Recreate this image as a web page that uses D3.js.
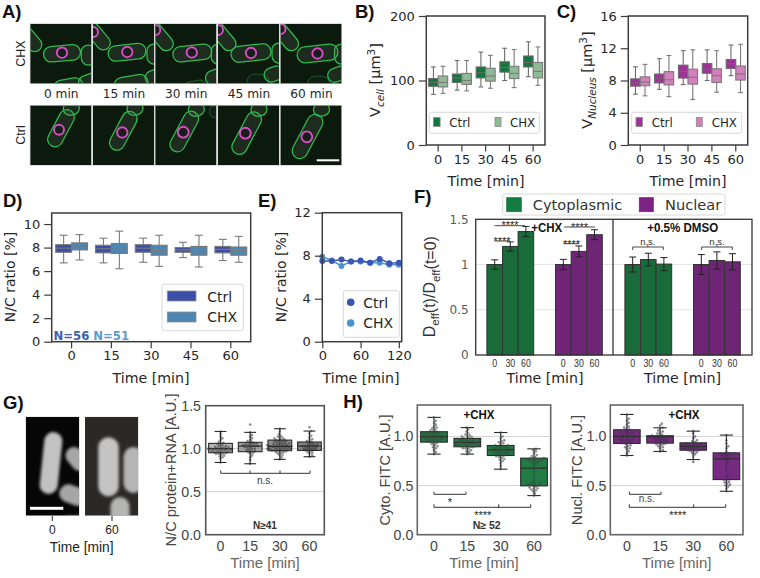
<!DOCTYPE html>
<html><head><meta charset="utf-8">
<script src="https://cdnjs.cloudflare.com/ajax/libs/d3/7.8.5/d3.min.js"></script>
<style>html,body{margin:0;padding:0;background:#fff}svg{display:block}</style></head>
<body><div id="c"></div>
<script>
// ---------- DATA ----------
const times = ["0","15","30","45","60"];
const timesShort = ["0","15","30","60"];
const groupNames = ["Ctrl","CHX"];
// box stats: low whisker, q1, median, q3, high whisker
const vCellCtrl = [[78.5,91,97,103,121],[85,97,104,110,131],[90,104,112,121,144],[100,113,120,129,150],[106,121,128,138,160]];
const vCellChx  = [[80,90,97,107,122],[84,94,100,111,131],[88,99,107,119,139],[89,103,111,122,148],[92.5,104,114,128,152]];
const vNucCtrl  = [[6.3,7.3,7.7,8.2,9.7],[6.9,7.7,8.3,8.8,10.7],[7.5,8.3,9.1,9.9,11.7],[8,8.9,9.4,10.1,11.8],[8.6,9.5,10.1,10.6,12.4]];
const vNucChx   = [[6.1,7.35,7.8,8.45,10],[6,7.45,8.1,9.1,11.1],[5.65,7.55,8.4,9.4,11.8],[6.55,7.75,8.6,9.45,11.7],[6.5,8.05,8.8,9.8,12.5]];
const ncCtrl    = [[6.7,7.6,7.95,8.25,9.05],[6.7,7.55,7.9,8.2,8.8],[6.75,7.6,7.95,8.25,8.8],[7.15,7.6,7.8,8,8.45],[6.9,7.55,7.85,8.1,8.7]];
const ncChx     = [[6.95,7.8,8.15,8.4,9.1],[6.2,7.5,8,8.35,9.4],[6.4,7.35,7.75,8.2,9.05],[6.35,7.35,7.65,8.1,9.05],[6.75,7.35,7.75,8.05,8.95]];
const tsMinutes = [0,15,30,45,60,75,90,105,120];
const tsCtrl    = [7.5,7.5,7.65,7.45,7.55,7.35,7.7,7.3,7.35];
const tsChx     = [7.9,7.55,7.05,7.45,7.45,7.35,7.35,7.15,7.15];
const deffTimes = ["0","30","60"];
const deffChxCyto  = [1,1.2,1.365];
const deffChxNuc   = [1,1.145,1.33];
const deffDmsoCyto = [1,1.055,1.005];
const deffDmsoNuc  = [1,1.045,1.03];
const deffChxCytoErr  = [0.052,0.05,0.056];
const deffChxNucErr   = [0.057,0.06,0.055];
const deffDmsoCytoErr = [0.083,0.07,0.072];
const deffDmsoNucErr  = [0.11,0.095,0.09];
const rnaBox  = [[.84,.953,1.0,1.062,1.2],[.825,.965,1.03,1.074,1.19],[.876,.977,1.027,1.1,1.232],[.907,.98,1.03,1.078,1.205]];
const rnaT0  = [.84,.88,.9,.91,.92,.93,.94,.94,.95,.95,.96,.96,.97,.97,.97,.98,.98,.98,.99,.99,.99,1,1,1,1,1.01,1.01,1.01,1.02,1.02,1.03,1.03,1.04,1.05,1.06,1.07,1.08,1.1,1.12,1.14,1.17,1.2];
const rnaT15 = [.825,.87,.9,.92,.94,.95,.96,.97,.97,.98,.99,1,1,1.01,1.02,1.02,1.03,1.03,1.03,1.04,1.04,1.05,1.05,1.06,1.06,1.07,1.08,1.09,1.1,1.12,1.14,1.16,1.19,1.28];
const rnaT30 = [.876,.9,.92,.93,.94,.95,.96,.96,.97,.97,.98,.98,.98,.99,.99,.99,1,1,1,1,1.01,1.01,1.01,1.02,1.02,1.02,1.03,1.03,1.03,1.03,1.04,1.04,1.04,1.05,1.05,1.05,1.06,1.06,1.07,1.07,1.08,1.08,1.09,1.09,1.1,1.1,1.11,1.12,1.12,1.13,1.14,1.15,1.17,1.2,1.232];
const rnaT60 = [.907,.92,.94,.95,.96,.97,.98,.98,.99,.99,1,1,1.01,1.01,1.02,1.02,1.03,1.03,1.03,1.04,1.04,1.05,1.05,1.06,1.07,1.08,1.09,1.1,1.11,1.13,1.15,1.18,1.205,1.25];
const cytoBox = [[.82,.942,.997,1.048,1.194],[.82,.895,.94,.98,1.09],[.667,.806,.864,.908,1.04],[.398,.497,.677,.779,.874]];
const cytoT0  = [.82,.84,.86,.88,.89,.9,.91,.92,.93,.94,.94,.95,.95,.96,.96,.97,.97,.97,.98,.98,.98,.99,.99,.99,1,1,1,1,1.01,1.01,1.01,1.02,1.02,1.02,1.03,1.03,1.04,1.04,1.05,1.05,1.06,1.07,1.08,1.09,1.1,1.12,1.14,1.16,1.194];
const cytoT15 = [.82,.84,.85,.86,.87,.88,.88,.89,.89,.9,.9,.9,.91,.91,.91,.92,.92,.92,.93,.93,.93,.94,.94,.94,.95,.95,.95,.96,.96,.96,.97,.97,.98,.98,.99,1,1,1.01,1.02,1.03,1.05,1.07,1.09];
const cytoT30 = [.667,.7,.73,.75,.76,.77,.78,.79,.8,.8,.81,.81,.82,.82,.83,.83,.84,.84,.85,.85,.85,.86,.86,.86,.87,.87,.87,.88,.88,.88,.89,.89,.9,.9,.91,.91,.92,.93,.94,.95,.96,.98,1,1.04];
const cytoT60 = [.398,.42,.44,.45,.46,.47,.47,.48,.49,.5,.5,.51,.51,.52,.52,.53,.55,.6,.66,.7,.72,.73,.74,.75,.75,.76,.76,.76,.77,.77,.77,.78,.78,.79,.8,.81,.83,.85,.86,.874];
const nucBox  = [[.806,.929,1.0,1.068,1.224],[.847,.932,.997,1.007,1.088],[.765,.86,.898,.935,1.054],[.442,.561,.772,.833,1.014]];
const nucT0  = [.806,.83,.85,.87,.88,.89,.9,.91,.92,.93,.93,.94,.95,.95,.96,.96,.97,.97,.98,.98,.99,.99,1,1,1,1.01,1.01,1.02,1.02,1.03,1.03,1.04,1.04,1.05,1.06,1.07,1.08,1.09,1.1,1.12,1.14,1.16,1.18,1.224];
const nucT15 = [.847,.86,.88,.89,.9,.91,.92,.92,.93,.93,.94,.94,.95,.95,.96,.96,.97,.97,.98,.98,.99,.99,1,1,1,1.01,1.01,1.02,1.03,1.04,1.05,1.06,1.08,1.088,1.11,1.13];
const nucT30 = [.74,.765,.8,.82,.83,.84,.85,.85,.86,.86,.87,.87,.87,.88,.88,.88,.89,.89,.89,.9,.9,.9,.91,.91,.91,.92,.92,.92,.93,.93,.94,.95,.96,.98,1,1.03,1.054];
const nucT60 = [.442,.47,.49,.5,.51,.52,.53,.54,.55,.56,.58,.6,.66,.72,.74,.76,.78,.79,.8,.8,.81,.81,.82,.82,.83,.83,.85,.88,.9,.93,.96,1.014];

// ---------- HELPERS ----------
const W=760,H=578, DJ='"DejaVu Sans"', AR='"Liberation Sans"';
const svg=d3.select("#c").append("svg").attr("width",W).attr("height",H).attr("viewBox",[0,0,W,H]);
const defs=svg.append("defs");
defs.append("filter").attr("id","soft").append("feGaussianBlur").attr("stdDeviation",0.4);
defs.append("filter").attr("id","blur").attr("x","-30%").attr("y","-30%").attr("width","160%").attr("height","160%").append("feGaussianBlur").attr("stdDeviation",1.8);

function txt(s,x,y,o={}){
  const t=svg.append("text").attr("x",x).attr("y",y).text(s)
    .attr("font-family",o.f||DJ).attr("font-size",o.s||13).attr("fill",o.c||"#262626")
    .attr("text-anchor",o.a||"start");
  if(o.w)t.attr("font-weight",o.w);
  if(o.tl)t.attr("textLength",o.tl).attr("lengthAdjust","spacingAndGlyphs");
  if(o.r)t.attr("transform",`rotate(${o.r} ${x} ${y})`);
  return t;
}
function richY(parts,x,y,o){
  const t=txt("",x,y,Object.assign({a:"middle",r:-90},o));
  parts.forEach(p=>{
    const ts=t.append("tspan").text(p.t);
    if(p.sub){ts.attr("font-size",o.s*0.72).attr("dy",o.s*0.28);}
    if(p.sup){ts.attr("font-size",o.s*0.72).attr("dy",-o.s*0.38);}
    if(p.it){ts.attr("font-style","italic");}
    if(p.back){ts.attr("dy",p.back);}
  });
}
function frame(p){
  const x=d3.scaleBand().domain(p.cats).range([p.l,p.r]);
  const y=d3.scaleLinear().domain([0,p.ymax]).range([p.b,p.t]);
  const g=svg.append("g");
  (p.grid||[]).forEach(v=>g.append("line").attr("x1",p.l).attr("x2",p.r).attr("y1",y(v)).attr("y2",y(v)).attr("stroke",p.gridC||"#d4d4d4").attr("stroke-width",1));
  return {x,y,g};
}
function finish(p,fr){
  const col=p.axC||"#3c3c3c", tc=p.tc||"#262626", sw=p.sw||1.5;
  svg.append("rect").attr("x",p.l).attr("y",p.t).attr("width",p.r-p.l).attr("height",p.b-p.t).attr("fill","none").attr("stroke",col).attr("stroke-width",sw);
  const ax=svg.append("g").attr("transform",`translate(0,${p.b})`).call(d3.axisBottom(p.xs||fr.x).tickValues(p.xt||null).tickSize(p.ts==null?6.5:p.ts).tickPadding(p.xpad||3));
  const ay=svg.append("g").attr("transform",`translate(${p.l},0)`).call(d3.axisLeft(fr.y).tickValues(p.yt).tickFormat(p.yf||(d=>d)).tickSize(p.ts==null?7.5:p.ts).tickPadding(p.ypad||4));
  [ax,ay].forEach(a=>{a.select(".domain").remove();a.selectAll("line").attr("stroke",col).attr("stroke-width",1.2);
    a.selectAll("text").attr("font-family",p.f||DJ).attr("font-size",p.fs||13).attr("fill",tc);});
}
function boxes(g,cx,bw,y,rows,c,o={}){
  const ec=o.edge||"#6e6e6e", lw=o.lw||1.2;
  const sel=g.selectAll(null).data(rows).join("g").attr("transform",(d,i)=>`translate(${cx(i)},0)`);
  sel.append("line").attr("y1",d=>y(d[0])).attr("y2",d=>y(d[4])).attr("stroke",ec).attr("stroke-width",lw);
  [0,4].forEach(k=>sel.append("line").attr("x1",-bw*.25).attr("x2",bw*.25).attr("y1",d=>y(d[k])).attr("y2",d=>y(d[k])).attr("stroke",ec).attr("stroke-width",lw));
  sel.append("rect").attr("x",-bw/2).attr("width",bw).attr("y",d=>y(d[3])).attr("height",d=>y(d[1])-y(d[3]))
    .attr("fill",(d,i)=>typeof c==="function"?c(i):c).attr("fill-opacity",o.fo==null?1:o.fo).attr("stroke",ec).attr("stroke-width",lw);
  sel.append("line").attr("x1",-bw/2).attr("x2",bw/2).attr("y1",d=>y(d[2])).attr("y2",d=>y(d[2])).attr("stroke",o.med||ec).attr("stroke-width",o.mlw||lw);
}
function swarm(g,vals,cx,y,r,fill,op){
  const placed=[];
  vals.slice().sort(d3.ascending).forEach(v=>{
    const py=y(v);let k=0,px=0;
    for(;;){
      px=(k%2?1:-1)*Math.ceil(k/2)*0.9;
      if(placed.every(q=>(q[0]-px)**2+(q[1]-py)**2>=(r*1.8)**2))break;
      k++;
    }
    placed.push([px,py]);
    g.append("circle").attr("cx",cx+px).attr("cy",py).attr("r",r).attr("fill",fill).attr("fill-opacity",op);
  });
}
function legendBox(x,y,w,h){svg.append("rect").attr("x",x).attr("y",y).attr("width",w).attr("height",h).attr("rx",2).attr("fill","#fff").attr("fill-opacity",.9).attr("stroke","#d8d8d8").attr("stroke-width",1);}
function swatch(x,y,w,h,c,e){svg.append("rect").attr("x",x).attr("y",y).attr("width",w).attr("height",h).attr("fill",c).attr("stroke",e||"#8a8a8a").attr("stroke-width",.8);}
function bracket(x1,x2,y,up,mids,c,sw){
  const g=svg.append("g").attr("stroke",c||"#333").attr("stroke-width",sw||1).attr("fill","none");
  g.append("path").attr("d",`M${x1},${y-up}V${y}H${x2}V${y-up}`);
  (mids||[]).forEach(m=>g.append("line").attr("x1",m).attr("x2",m).attr("y1",y).attr("y2",y-up));
}

// ---------- PANEL A: micrographs (illustration) ----------
const fx=[30.3,93,155.3,218,280.5];
function cell(g,c){
  const [cx,cy,len,w,ang,op]=c;
  g.append("rect").attr("x",-len/2).attr("y",-w/2).attr("width",len).attr("height",w).attr("rx",w/2)
   .attr("transform",`translate(${cx},${cy}) rotate(${ang})`)
   .attr("fill","#8f8f8f").attr("fill-opacity",(op==null?1:op)*.14).attr("stroke","#2fbb4e").attr("stroke-opacity",op==null?1:op).attr("stroke-width",1.25);
}
function nuc(g,n){
  g.append("circle").attr("cx",n[0]).attr("cy",n[1]).attr("r",n[2]).attr("fill","#1a0f1a").attr("fill-opacity",.5).attr("stroke","#d64fc4").attr("stroke-width",1.9);
}
const rowA=[
 {c:[[-2,13,34,14,50],[58,31,20,14,90],[60,57,24,14,-20],[38,63,30,16,-10]],m:[31.7,29.3,37,15.5,-5],n:[31.7,28.7,5.2],ex:[]},
 {c:[[2,9,40,14,50],[61,30,20,14,90],[64,52,24,14,-20],[38,60,34,16,-10]],m:[34,28.3,38,15.5,-6],n:[34.3,28,5.2],ex:[[0,8,5]]},
 {c:[[2,9,42,14,50],[63,30,20,14,90],[62,52,24,14,-20],[40,64,24,14,-10,.35]],m:[37,29,39,15.5,-6],n:[36.5,28.5,5.2],ex:[[0,6,5]]},
 {c:[[2,9,42,14,50],[61,29,20,14,90],[56,50,20,14,-20],[40,58,22,16,0,.3]],m:[33,29,40,16,-6],n:[33,29,5.2],ex:[[0,6,5]]},
 {c:[[2,9,42,14,50],[61,30,20,14,90],[58,50,22,14,-20],[38,60,22,16,0,.3]],m:[37,29.5,41,16,-6],n:[37,29.5,5.2],ex:[[0,5,5]]}
];
const rowB=[
 {c:[[41,3,16,13,-10]],m:[30.7,22.7,40,15,-62],n:[28.7,24.3,5]},
 {c:[[42,3,16,13,-10]],m:[30.3,25.3,42,15,-62],n:[29.3,27,5.2]},
 {c:[[41,4,16,13,-10],[60,6,12,12,0,.3]],m:[29,26,44,15,-62],n:[28,26.7,5.4]},
 {c:[[41,4,16,13,-10]],m:[28.7,27.7,46,15,-62],n:[27.3,27.7,5.4]},
 {c:[[41,4,16,13,-10]],m:[27,31,48,15.5,-62],n:[26.3,31.3,5.4]}
];
function micro(list,top,h,idp){
  list.forEach((f,i)=>{
    const id=idp+i;
    defs.append("clipPath").attr("id",id).append("rect").attr("width",61).attr("height",h);
    svg.append("rect").attr("x",fx[i]-.5).attr("y",top-.5).attr("width",62).attr("height",h+1).attr("fill","#bdbdbd");
    const g=svg.append("g").attr("transform",`translate(${fx[i]},${top})`).attr("clip-path",`url(#${id})`);
    g.append("rect").attr("width",61).attr("height",h).attr("fill","#0b1a0d");
    const inner=g.append("g").attr("filter","url(#soft)");
    f.c.forEach(c=>cell(inner,c));
    cell(inner,f.m);
    nuc(inner,f.n);
    (f.ex||[]).forEach(n=>nuc(inner,n));
  });
}
micro(rowA,24,59.5,"ma");
micro(rowB,105.5,59.5,"mb");
svg.append("rect").attr("x",316.7).attr("y",159.3).attr("width",22.5).attr("height",2).attr("fill","#fff");
const aLabels=["0 min","15 min","30 min","45 min","60 min"];
aLabels.forEach((s,i)=>txt(s,fx[i]+31,98,{f:DJ,s:12.2,a:"middle"}));
txt("CHX",25,53.5,{f:AR,s:12.5,a:"middle",r:-90,c:"#222"});
txt("Ctrl",25,135,{f:AR,s:12.5,a:"middle",r:-90,c:"#222"});

// ---------- PANEL B ----------
function volPanel(p,ctrl,chx,cC,cX){
  const fr=frame(p);
  const bw=fr.x.bandwidth()*.4;
  const cx=k=>i=>fr.x(times[i])+fr.x.bandwidth()/2+k*bw/2;
  boxes(fr.g,cx(-1),bw,fr.y,ctrl,cC,{edge:"#6b6b6b",lw:1.1});
  boxes(fr.g,cx(1),bw,fr.y,chx,cX,{edge:"#7a7a7a",lw:1.1});
  finish(p,fr);
}
const pB={l:426.3,r:545,t:16,b:145,ymax:200,cats:times,yt:[0,100,200]};
volPanel(pB,vCellCtrl,vCellChx,"#11783b","#8fba96");
legendBox(429.3,112.3,110,21);
swatch(433.5,117.5,6.6,9,"#11783b");txt(groupNames[0],449.3,127,{s:11.8});
swatch(495,117.5,6,9,"#8fba96");txt(groupNames[1],510,127,{s:11.8});
richY([{t:"V"},{t:"cell",sub:1,it:1},{t:" [µm",back:-4},{t:"3",sup:1},{t:"]",back:6}],380,80,{s:14.5});
txt("Time [min]",486,185.5,{s:14.2,a:"middle"});

// ---------- PANEL C ----------
const pC={l:628.3,r:747.7,t:16,b:145,ymax:16,cats:times,yt:[0,4,8,12,16]};
volPanel(pC,vNucCtrl,vNucChx,"#a2309b","#d47fbe");
legendBox(631.7,112.3,110,21);
swatch(636,117.5,6.4,9,"#a2309b");txt(groupNames[0],651.7,127,{s:11.8});
swatch(696.3,117.5,6,9,"#d47fbe");txt(groupNames[1],711.7,127,{s:11.8});
richY([{t:"V"},{t:"Nucleus",sub:1,it:1},{t:" [µm",back:-4},{t:"3",sup:1},{t:"]",back:6}],592,80,{s:14.5});
txt("Time [min]",688,185.5,{s:14.2,a:"middle"});

// ---------- PANEL D ----------
const pD={l:51.7,r:250.7,t:213,b:341.7,ymax:10.94,cats:times,yt:[0,2,4,6,8,10]};
(function(){
  const fr=frame(pD);
  const bw=fr.x.bandwidth()*.4;
  const cx=k=>i=>fr.x(times[i])+fr.x.bandwidth()/2+k*bw/2;
  boxes(fr.g,cx(-1),bw,fr.y,ncCtrl,"#3b4fa8",{edge:"#7a7a7a",lw:1.1});
  boxes(fr.g,cx(1),bw,fr.y,ncChx,"#4e86b2",{edge:"#7a7a7a",lw:1.1});
  finish(pD,fr);
})();
legendBox(162,284.3,81.3,46.4);
swatch(167.3,291,28.7,10,"#3b4fa8","#8f8f8f");txt(groupNames[0],207.3,301.5,{s:14});
swatch(167.3,312,28.7,10,"#4e86b2","#8f8f8f");txt(groupNames[1],207.3,322,{s:14});
txt("N=56",53.5,340,{s:11.7,w:"bold",c:"#3a5fb5"});
txt("N=51",93.3,340,{s:11.7,w:"bold",c:"#5b9bd2"});
txt("N/C ratio [%]",15,277,{s:14,a:"middle",r:-90});
txt("Time [min]",151,383,{s:14.2,a:"middle"});

// ---------- PANEL E ----------
const pE={l:322.3,r:401.7,t:212.7,b:341.7,ymax:12,cats:["a"],yt:[0,4,8,12]};
(function(){
  const fr=frame(pE);
  const xs=d3.scaleLinear().domain([0,124.5]).range([pE.l,pE.r]);
  const line=d3.line().x((d,i)=>xs(tsMinutes[i])).y(d=>fr.y(d));
  [[tsChx,"#4b93cb"],[tsCtrl,"#3a56b4"]].forEach(([s,c])=>{
    fr.g.append("path").attr("d",line(s)).attr("fill","none").attr("stroke",c).attr("stroke-width",1.5);
    fr.g.selectAll(null).data(s).join("circle").attr("cx",(d,i)=>xs(tsMinutes[i])).attr("cy",d=>fr.y(d)).attr("r",3).attr("fill",c);
  });
  pE.xs=xs;pE.xt=[0,60,120];
  finish(pE,fr);
})();
legendBox(343.3,290.7,56,46.6);
svg.append("circle").attr("cx",350.7).attr("cy",302.3).attr("r",3.8).attr("fill","#3a56b4");
svg.append("circle").attr("cx",350.7).attr("cy",323).attr("r",3.8).attr("fill","#4b93cb");
txt(groupNames[0],363.3,307.5,{s:14});txt(groupNames[1],363.3,328,{s:14});
txt("N/C ratio [%]",286,277,{s:14,a:"middle",r:-90});
txt("Time [min]",361,383,{s:14.2,a:"middle"});

// ---------- PANEL F ----------
(function(){
  const t=219.3,b=355,l=475.7,m=613,r=752;
  const y=d3.scaleLinear().domain([0,1.5]).range([b,t]);
  [0.5,1].forEach(v=>svg.append("line").attr("x1",l).attr("x2",r).attr("y1",y(v)).attr("y2",y(v)).attr("stroke","#e4e4e4"));
  const bw=15.6;
  const groups=[[deffChxCyto,deffChxCytoErr,494.7-bw/2,"#196b3a"],[deffChxNuc,deffChxNucErr,563.3-bw/2,"#6e2575"],[deffDmsoCyto,deffDmsoCytoErr,632.7-bw/2,"#196b3a"],[deffDmsoNuc,deffDmsoNucErr,701.3-bw/2,"#6e2575"]];
  groups.forEach(([vals,errs,x0,c])=>{
    const xb=d3.scaleBand().domain(deffTimes).range([x0,x0+bw*3]);
    const g=svg.append("g");
    g.selectAll("rect").data(vals).join("rect").attr("x",(d,i)=>xb(deffTimes[i])).attr("width",xb.bandwidth())
      .attr("y",d=>y(d)).attr("height",d=>b-y(d)).attr("fill",c).attr("stroke","#333").attr("stroke-width",1);
    vals.forEach((v,i)=>{
      const cx=xb(deffTimes[i])+xb.bandwidth()/2,e=errs[i];
      g.append("path").attr("d",`M${cx-3.5},${y(v+e)}H${cx+3.5}M${cx},${y(v+e)}V${y(v-e)}M${cx-3.5},${y(v-e)}H${cx+3.5}`).attr("stroke","#222").attr("stroke-width",1).attr("fill","none");
    });
    const ax=svg.append("g").attr("transform",`translate(0,${b})`).call(d3.axisBottom(xb).tickSize(0).tickPadding(5));
    ax.select(".domain").remove();
    ax.selectAll("text").attr("font-family",AR).attr("font-size",10.5).attr("fill","#333")
      .attr("textLength",d=>d.length*4.9).attr("lengthAdjust","spacingAndGlyphs");
  });
  svg.append("rect").attr("x",l).attr("y",t).attr("width",r-l).attr("height",b-t).attr("fill","none").attr("stroke","#333").attr("stroke-width",1.3);
  svg.append("line").attr("x1",m).attr("x2",m).attr("y1",t).attr("y2",b).attr("stroke","#333").attr("stroke-width",1.3);
  const ay=svg.append("g").attr("transform",`translate(${l},0)`).call(d3.axisLeft(y).tickValues([0,.5,1,1.5]).tickFormat(d=>d).tickSize(0).tickPadding(7));
  ay.select(".domain").remove();
  ay.selectAll("text").attr("font-family",DJ).attr("font-size",12).attr("fill","#5a5a5a");
  // significance
  bracket(494.5,525,225.7,0,[],"#333",.9);
  bracket(494.5,510,241,0,[],"#333",.9);
  bracket(564,595,227,0,[],"#333",.9);
  bracket(563.5,579,243.7,0,[],"#333",.9);
  const star=(x,yy)=>txt("****",x,yy,{f:AR,s:11,a:"middle",c:"#222"});
  star(510,229);star(502,245);star(579.5,230.6);star(571.5,247.6);
  [[632.7,663.3,647.8],[701.7,732.3,717]].forEach(([a,z,c])=>{
    svg.append("path").attr("d",`M${a},${250}V${247}H${z}V${250}M${c},${247}V${244.5}`).attr("fill","none").attr("stroke","#333").attr("stroke-width",.9);
    txt("n.s.",c,245,{f:AR,s:9.5,a:"middle",c:"#333"});
  });
  txt("+CHX",546.7,231.7,{f:AR,s:13,w:"bold",a:"middle",c:"#111",tl:31});
  txt("+0.5% DMSO",682.7,231.7,{f:AR,s:13,w:"bold",a:"middle",c:"#111",tl:71});
  legendBox(502.7,194,222.3,21);
  swatch(506.7,197.7,14.6,14,"#147c40","#147c40");txt("Cytoplasmic",532.7,209.5,{s:14.6,c:"#333"});
  swatch(639.3,197.7,14,14,"#7a2382","#7a2382");txt("Nuclear",665,209.5,{s:14.6,c:"#333"});
  richY([{t:"D"},{t:"eff",sub:1},{t:"(t)/D",back:-4},{t:"eff",sub:1},{t:"(t=0)",back:-4}],435,286.7,{s:16,f:AR,c:"#333"});
  txt("Time [min]",545,383,{s:14.2,a:"middle"});
  txt("Time [min]",682.5,383,{s:14.2,a:"middle"});
})();

// ---------- PANEL G ----------
function blurImg(x,w,top,h,bg,cells,id,fill){
  defs.append("clipPath").attr("id",id).append("rect").attr("x",x).attr("y",top).attr("width",w).attr("height",h);
  const g=svg.append("g").attr("clip-path",`url(#${id})`);
  g.append("rect").attr("x",x).attr("y",top).attr("width",w).attr("height",h).attr("fill",bg);
  const b=g.append("g").attr("filter","url(#blur)");
  cells.forEach(([cx,cy,l,wd,a,o])=>b.append("rect").attr("x",-l/2).attr("y",-wd/2).attr("width",l).attr("height",wd).attr("rx",wd/2)
    .attr("transform",`translate(${cx},${cy}) rotate(${a})`).attr("fill",fill).attr("fill-opacity",o==null?1:o));
}
blurImg(25.7,53.6,416.7,99,"#060606",[[51,463,62,18,-84],[77,459,26,17,50,.85],[73,495,28,18,20,.85],[74,523,24,14,0,.75]],"g1","#c2c2c2");
blurImg(85,53.3,416.7,99,"#2b2927",[[108.5,466.7,59,20.5,90],[133.5,470,46,20,90,.9],[120,514,34,19,90,.9]],"g2","#c4c4c4");
svg.append("rect").attr("x",30).attr("y",506.8).attr("width",33.3).attr("height",3).attr("fill","#fff");
[[52.3,"0"],[112,"60"]].forEach(([x,s])=>{
  svg.append("line").attr("x1",x).attr("x2",x).attr("y1",516).attr("y2",521).attr("stroke","#222");
  txt(s,x,534,{f:AR,s:12,a:"middle",c:"#222"});
});
txt("Time [min]",81.7,552,{f:AR,s:13.8,a:"middle",c:"#222"});

function swarmPanel(p,box,sets,cols,o){
  const fr=frame(p);
  const bw=fr.x.bandwidth()*.8;
  const cx=i=>fr.x(timesShort[i])+fr.x.bandwidth()/2;
  boxes(fr.g,cx,bw,fr.y,box,i=>cols[i],Object.assign({edge:"#2a2a2a",lw:1.1},o.box));
  sets.forEach((s,i)=>swarm(fr.g,s,cx(i),fr.y,o.r,o.c,o.op));
  finish(p,fr);
}
const pG={l:205.7,r:324.3,t:405.7,b:534.7,ymax:1.5,cats:timesShort,yt:[0,.5,1,1.5],yf:d3.format(".1f"),grid:[.5,1],gridC:"#cfcfcf",axC:"#555",sw:1.6,tc:"#444",f:AR,fs:14.2,ts:0,xpad:6,ypad:4.7};
swarmPanel(pG,rnaBox,[rnaT0,rnaT15,rnaT30,rnaT60],["#a8a8a8","#8f8f8f","#7d7d7d","#6f6f6f"],{r:1.3,c:"#222",op:.5,box:{fo:.85}});
bracket(220.7,310,473.3,2.8,[250,280],"#333");
txt("n.s.",265,484,{f:AR,s:10,a:"middle",c:"#333"});
txt("N≥41",265,529,{f:AR,s:10,w:"bold",a:"middle",c:"#333"});
txt("N/C protein+RNA [A.U.]",175.5,470,{f:AR,s:14.6,a:"middle",r:-90,c:"#444"});
txt("Time [min]",265,567.7,{f:AR,s:15,a:"middle",c:"#666"});

// ---------- PANEL H ----------
const pH1={l:417.3,r:550.7,t:405,b:534.7,ymax:1.32,cats:timesShort,yt:[0,.5,1],yf:d3.format(".1f"),grid:[.5,1],gridC:"#d4d4d4",axC:"#666",sw:1.6,tc:"#444",f:AR,fs:14.2,ts:0,xpad:6,ypad:4};
swarmPanel(pH1,cytoBox,[cytoT0,cytoT15,cytoT30,cytoT60],["#14743a","#14743a","#14743a","#14743a"],{r:1.3,c:"#3c463e",op:.6,box:{edge:"#2a2a2a",fo:.95}});
const pH2={l:610.3,r:743,t:405,b:534.7,ymax:1.32,cats:timesShort,yt:[0,.5,1],yf:d3.format(".1f"),grid:[.5,1],gridC:"#d4d4d4",axC:"#666",sw:1.6,tc:"#444",f:AR,fs:14.2,ts:0,xpad:6,ypad:4};
swarmPanel(pH2,nucBox,[nucT0,nucT15,nucT30,nucT60],["#6f1f7a","#6f1f7a","#6f1f7a","#6f1f7a"],{r:1.3,c:"#40364a",op:.6,box:{edge:"#2a2a2a",fo:.95}});
txt("+CHX",479,419,{f:AR,s:13,w:"bold",a:"middle",c:"#111",tl:31});
txt("+CHX",684,419,{f:AR,s:13,w:"bold",a:"middle",c:"#111",tl:31});
bracket(434,466,494.3,2.6,[],"#333");
txt("*",450,505.6,{f:AR,s:11,a:"middle",c:"#222"});
bracket(434,530.7,507.3,3,[498.7],"#333");
txt("****",482.7,518.6,{f:AR,s:11,a:"middle",c:"#222"});
txt("N≥ 52",486.7,529.3,{f:AR,s:10.5,w:"bold",a:"middle",c:"#333"});
bracket(629.3,661,494.3,2.6,[],"#333");
txt("n.s.",646.7,502,{f:AR,s:10,a:"middle",c:"#444"});
bracket(629.3,725.7,507.3,3,[693.7],"#333");
txt("****",677.7,518.6,{f:AR,s:11,a:"middle",c:"#222"});
txt("Cyto. FITC [A.U.]",390,470,{f:AR,s:14.6,a:"middle",r:-90,c:"#444"});
txt("Nucl. FITC [A.U.]",582,470,{f:AR,s:14.6,a:"middle",r:-90,c:"#444"});
txt("Time [min]",484,567.7,{f:AR,s:15,a:"middle",c:"#666"});
txt("Time [min]",676.7,567.7,{f:AR,s:15,a:"middle",c:"#666"});

// ---------- PANEL LETTERS ----------
[["A)",2,18],["B)",355,17.5],["C)",556.7,17.5],["D)",3,206.7],["E)",258,206.7],["F)",414,203],["G)",3,409],["H)",343.3,408]]
 .forEach(([s,x,y])=>txt(s,x,y,{f:AR,s:18.5,w:"bold",c:"#111"}));
</script>
</body></html>
